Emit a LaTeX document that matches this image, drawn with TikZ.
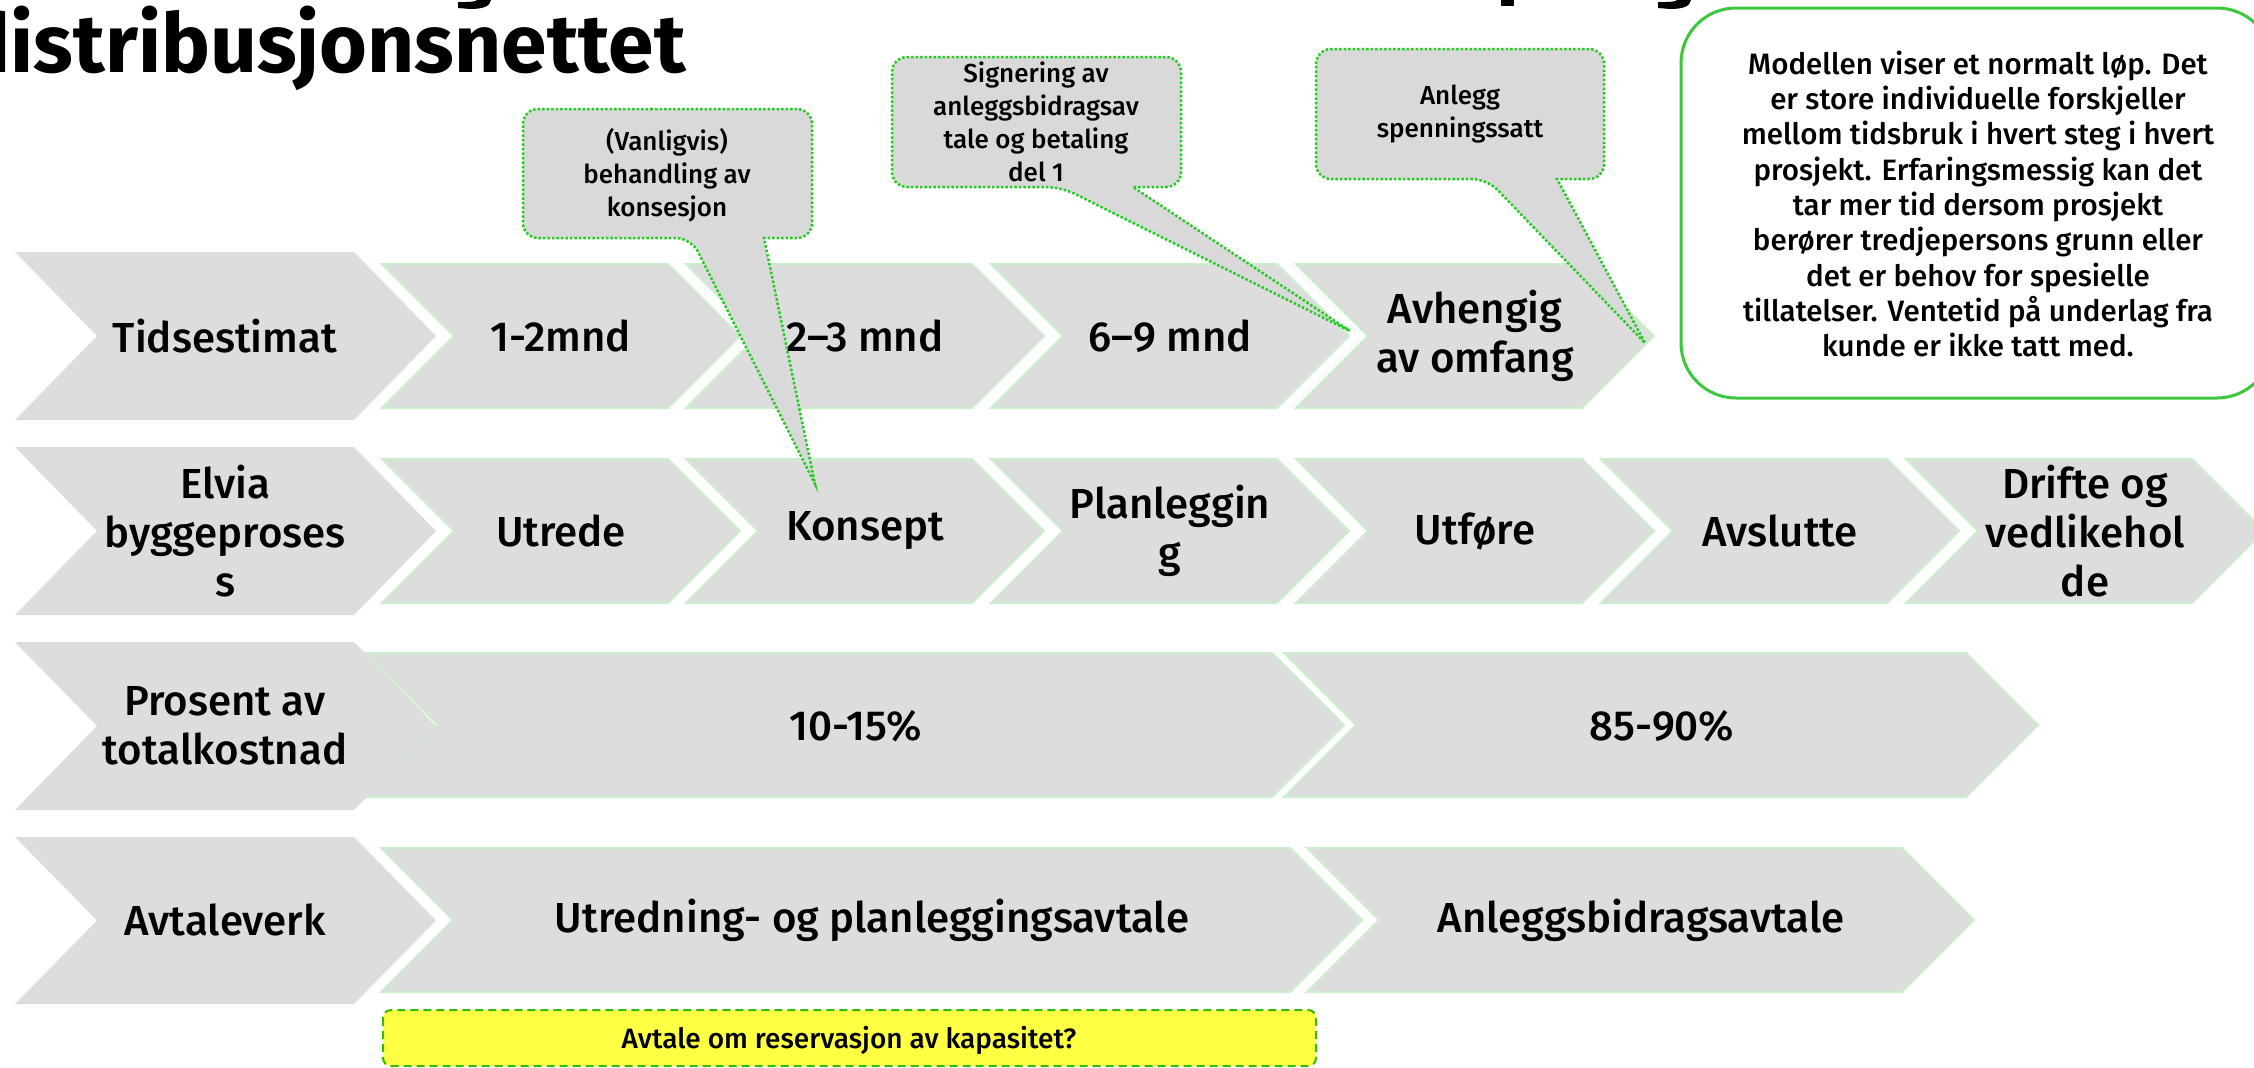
\documentclass[tikz,border=0pt]{standalone}
\usepackage{fontspec}
\setmainfont{Fira Sans}[UprightFont={* Medium},BoldFont={* Bold}]
\definecolor{chevfill}{HTML}{DDDDDD}
\definecolor{chevline}{HTML}{CCEECC}
\definecolor{callfill}{HTML}{D9D9D9}
\definecolor{callline}{HTML}{22CC22}
\definecolor{infoline}{HTML}{3CC83C}
\definecolor{yellowfill}{HTML}{FFFF44}
\definecolor{yellowline}{HTML}{33BB00}
\newcommand{\mychev}[6]{%
  \path[#1] (#2,#4) -- (#3,#4) -- ({#3+#6},{(#4+#5)/2}) -- (#3,#5) -- (#2,#5) -- ({#2+#6},{(#4+#5)/2}) -- cycle;}
\newcommand{\mycallout}[8]{% #1 x1 #2 y1 #3 x2 #4 y2 #5 base left #6 base right #7 tipx #8 tipy
  \path[callbox] ({(#1+#3)/2},#2) [rounded corners=15pt] -- (#1,#2) -- (#1,#4) -- (#5,#4) [sharp corners] -- (#7,#8) -- (#6,#4) [rounded corners=15pt] -- (#3,#4) -- (#3,#2) -- cycle;}
\begin{document}
\begin{tikzpicture}[x=1pt,y=-1pt,
  hdr/.style={fill=chevfill},
  stepchev/.style={fill=chevfill,draw=chevline,line width=2pt},
  callbox/.style={fill=callfill,draw=callline,line width=2.5pt,dash pattern=on 2.5pt off 2pt},
  lbl/.style={font=\fontsize{42}{49}\selectfont,align=center,inner sep=0pt,text=black},
  calltxt/.style={font=\fontsize{26}{33}\selectfont,align=center,inner sep=0pt,text=black},
  infotxt/.style={font=\fontsize{29.5}{35.3}\selectfont,align=center,inner sep=0pt,text=black},
  ]
\path[use as bounding box, clip] (0,0) rectangle (2254,1068);
\fill[white] (0,0) rectangle (2254,1068);

% title (first line cut off above the picture: only descenders show)
\fill[black] (477,0) -- (491,0) .. controls (490,6) and (484,9) .. (470,9) -- (458,8) -- (458,2) -- (466,2) .. controls (472,2) and (477,1) .. (477,0) -- cycle;
\fill[black] (1501,0) rectangle (1514,6);
\fill[black] (1677,0) -- (1691,0) .. controls (1690,6) and (1684,9) .. (1670,9) -- (1658,8) -- (1658,2) -- (1666,2) .. controls (1672,2) and (1677,1) .. (1677,0) -- cycle;
\node[font=\fontsize{82}{86}\selectfont\bfseries,anchor=base east,inner sep=0pt] (title) at (686,72) {distribusjonsnettet};

% Row 1
\mychev{hdr}{15}{354}{252}{420}{82}
\mychev{stepchev}{382}{668}{264}{408}{72}
\mychev{stepchev}{686}{972}{264}{408}{72}
\mychev{stepchev}{991}{1277}{264}{408}{72}
\mychev{stepchev}{1296}{1582}{264}{408}{72}
% Row 2
\mychev{hdr}{15}{354}{447}{615}{82}
\mychev{stepchev}{382}{668}{459}{603}{72}
\mychev{stepchev}{686}{972}{459}{603}{72}
\mychev{stepchev}{991}{1277}{459}{603}{72}
\mychev{stepchev}{1296}{1582}{459}{603}{72}
\mychev{stepchev}{1601}{1887}{459}{603}{72}
\mychev{stepchev}{1906}{2192}{459}{603}{72}
% Row 3
\mychev{stepchev}{366}{1272}{653}{797}{72}
\mychev{stepchev}{1284}{1966}{653}{797}{72}
\mychev{hdr}{15}{354}{642}{810}{82}
% Row 4
\mychev{hdr}{15}{354}{837}{1004}{82}
\mychev{stepchev}{381}{1290}{848}{992}{72}
\mychev{stepchev}{1307}{1902}{848}{992}{72}

% Row labels
\node[lbl] (r1h) at (225,336) {Tidsestimat};
\node[lbl] (r1a) at (561,336) {1-2mnd};
\node[lbl] (r1b) at (865,336) {2–3 mnd};
\node[lbl] (r1c) at (1170,336) {6–9 mnd};
\node[lbl] (r1d) at (1475,336) {Avhengig\\av omfang};

\node[lbl] (r2h) at (225,531) {Elvia\\byggeproses\\s};
\node[lbl] (r2a) at (561,531) {Utrede};
\node[lbl] (r2b) at (865,531) {Konsept};
\node[lbl] (r2c) at (1170,531) {Planleggin\\g};
\node[lbl] (r2d) at (1475,531) {Utføre};
\node[lbl] (r2e) at (1780,531) {Avslutte};
\node[lbl] (r2f) at (2085,531) {Drifte og\\vedlikehol\\de};

\node[lbl] (r3h) at (225,726) {Prosent av\\totalkostnad};
\node[lbl] (r3a) at (856,726) {10-15\%};
\node[lbl] (r3b) at (1662,726) {85-90\%};

\node[lbl] (r4h) at (225,920) {Avtaleverk};
\node[lbl] (r4a) at (872,920) {Utredning- og planleggingsavtale};
\node[lbl] (r4b) at (1641,920) {Anleggsbidragsavtale};

% yellow box
\draw[fill=yellowfill,draw=yellowline,line width=2pt,dash pattern=on 8pt off 5pt,rounded corners=8pt] (383,1010) rectangle (1316,1066);
\node[font=\fontsize{28}{32}\selectfont,inner sep=0pt] (res) at (849,1040) {Avtale om reservasjon av kapasitet?};

% callouts
\mycallout{523}{109}{812}{238}{691}{764}{815}{484}
\node[calltxt] (c1) at (667,175) {(Vanligvis)\\behandling av\\konsesjon};
\mycallout{892}{57}{1181}{187}{1061}{1133}{1350}{331}
\node[calltxt] (c2) at (1036,122) {Signering av\\anleggsbidragsav\\tale og betaling\\del 1};
\mycallout{1316}{49}{1604}{179}{1487}{1557}{1645}{343}
\node[calltxt] (c3) at (1460,114) {Anlegg\\spenningssatt};

% info box
\draw[draw=infoline,fill=white,line width=3pt,rounded corners=55pt] (1681,8) rectangle (2272,398);
\node[infotxt] (info) at (1978,204) {Modellen viser et normalt løp. Det\\er store individuelle forskjeller\\mellom tidsbruk i hvert steg i hvert\\prosjekt. Erfaringsmessig kan det\\tar mer tid dersom prosjekt\\berører tredjepersons grunn eller\\det er behov for spesielle\\tillatelser. Ventetid på underlag fra\\kunde er ikke tatt med.};
\end{tikzpicture}
\end{document}
